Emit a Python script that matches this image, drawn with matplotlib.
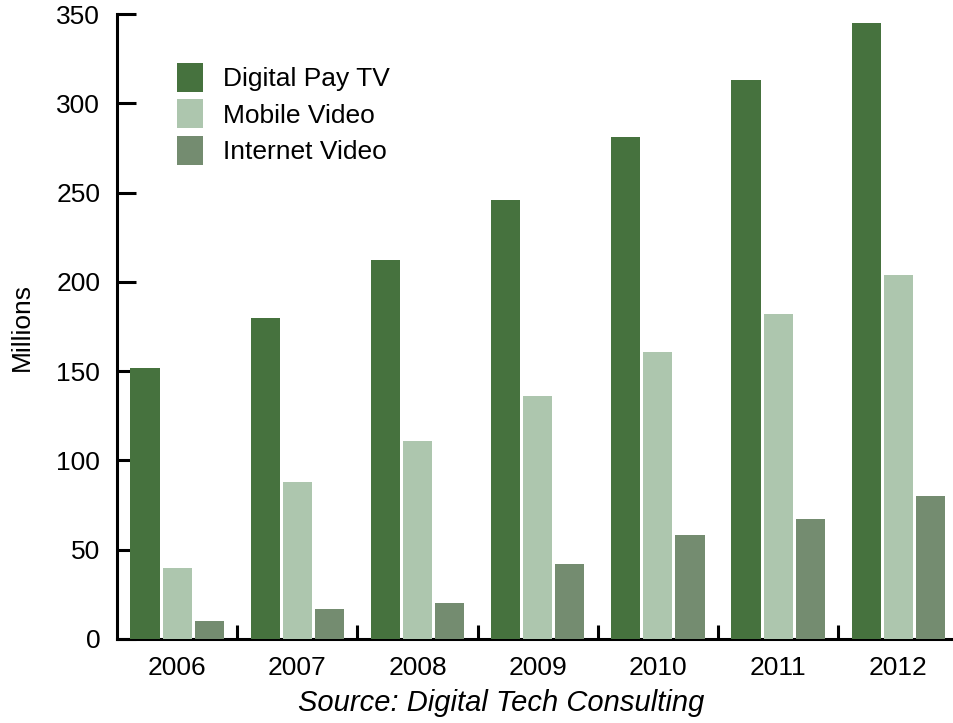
import matplotlib
matplotlib.use("Agg")
import matplotlib.pyplot as plt
import numpy as np

plt.rcParams['font.family'] = ['Liberation Sans', 'DejaVu Sans']

years = ['2006', '2007', '2008', '2009', '2010', '2011', '2012']
series_names = ['Digital Pay TV', 'Mobile Video', 'Internet Video']
pay_tv = [152, 180, 212, 246, 281, 313, 345]
mobile_video = [40, 88, 111, 136, 161, 182, 204]
internet_video = [10, 17, 20, 42, 58, 67, 80]
colors = ['#46723e', '#adc6ae', '#748c70']

fig = plt.figure(figsize=(9.54, 7.23), dpi=100)
ax = fig.add_axes([0.1226, 0.1162, 0.882, 0.8644])

x = np.arange(len(years))
step = 0.267
width = 0.242
for i, (vals, name) in enumerate(zip([pay_tv, mobile_video, internet_video], series_names)):
    ax.bar(x + (i - 1) * step, vals, width, color=colors[i], label=name, zorder=3)

ax.set_xlim(-0.5, 6.5)
ax.set_ylim(0, 350)
ax.set_yticks(range(0, 351, 50))
ax.set_xticks(x)
ax.set_xticklabels(years)
ax.set_xticks(np.arange(0.5, 6.5, 1), minor=True)

for side in ['top', 'right']:
    ax.spines[side].set_visible(False)
for side in ['left', 'bottom']:
    ax.spines[side].set_linewidth(2.2)
    ax.spines[side].set_zorder(1)

ax.tick_params(axis='y', direction='in', length=14, width=2.2, labelsize=19, pad=12)
ax.tick_params(axis='x', which='major', length=0, labelsize=19, pad=12)
ax.tick_params(axis='x', which='minor', direction='in', length=10, width=2.2)

ax.set_ylabel('Millions', fontsize=19, labelpad=16)

leg = ax.legend(loc='upper left', bbox_to_anchor=(0.043, 0.96), frameon=False,
                fontsize=19, handlelength=1.0, handleheight=1.3,
                handletextpad=0.75, labelspacing=0.3)

fig.text(0.525, 0.008, 'Source: Digital Tech Consulting', fontsize=21,
         style='italic', ha='center', va='bottom')

fig.savefig('out.png', dpi=100)
